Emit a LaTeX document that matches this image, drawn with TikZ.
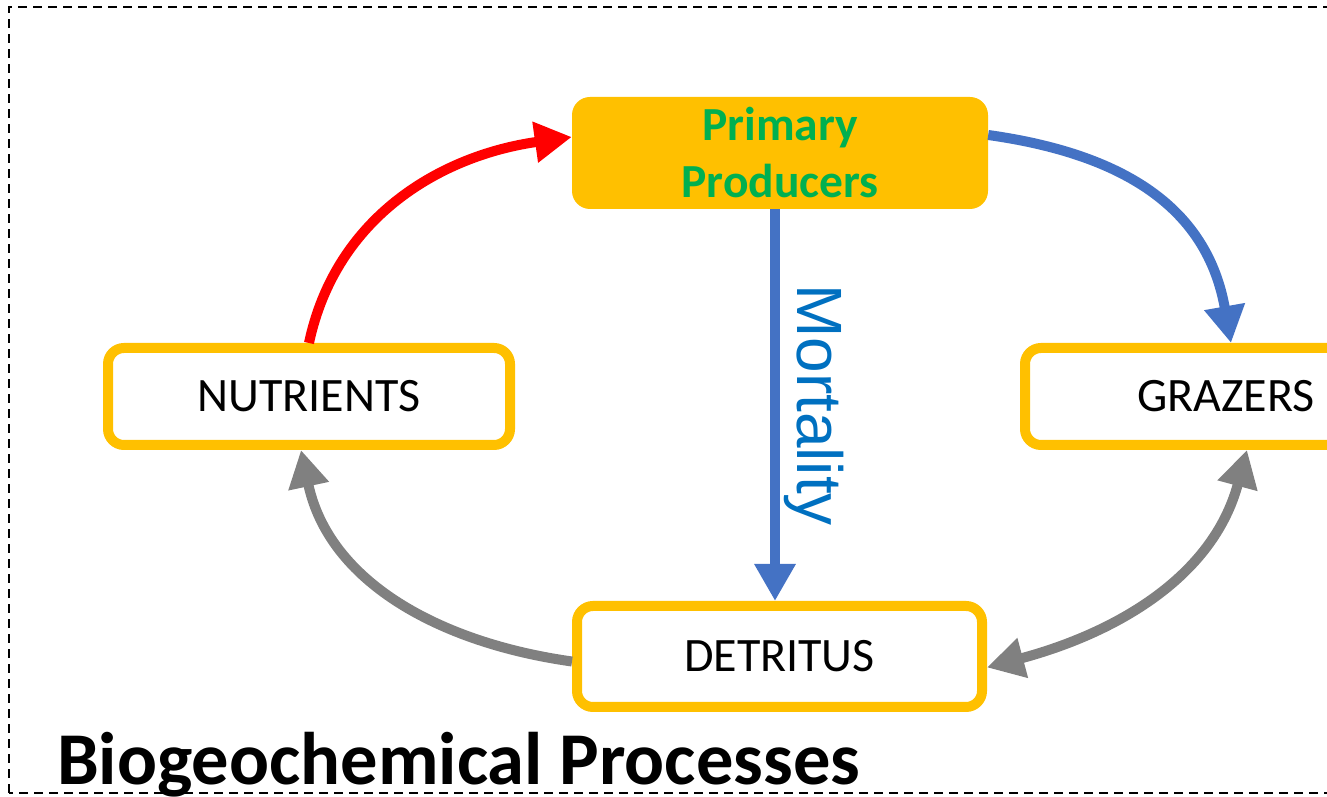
\documentclass[tikz,border=0pt]{standalone}
\usepackage{fontspec}
\setmainfont{Carlito}
\newfontfamily\arialfont{Liberation Sans}
\usetikzlibrary{arrows.meta}
\definecolor{boxorange}{HTML}{FFC000}
\definecolor{ppgreen}{HTML}{00B050}
\definecolor{flowblue}{HTML}{4472C4}
\definecolor{mortblue}{HTML}{0070C0}
\definecolor{flowgrey}{HTML}{808080}
\begin{document}
\begin{tikzpicture}[x=1pt, y=1pt, >={Triangle[length=37pt,width=39pt]},
  box/.style = {draw=boxorange, line width=10pt, rounded corners=16pt, fill=white, minimum width=402pt, minimum height=97pt, inner sep=0pt, font=\fontsize{48}{56}\selectfont},
  flow/.style = {line width=10pt}]
\useasboundingbox (0,0) rectangle (1327,797);
\clip (0,0) rectangle (1327,797);
\draw[line width=2pt, dash pattern=on 9pt off 6pt] (9,4) rectangle (1340,790);
\node[box] (nut) at (309,400.5) {NUTRIENTS};
\node[box] (grz) at (1226,400.5) {GRAZERS};
\node[box, minimum width=405pt, minimum height=101pt] (det) at (779.5,140.5) {DETRITUS};
\node[fill=boxorange, rounded corners=18pt, minimum width=416pt, minimum height=112pt, inner sep=0pt, align=center, text=ppgreen, font=\bfseries\fontsize{47.5}{57}\selectfont] (pp) at (780,644) {Primary\\Producers};
\node[anchor=base west, inner sep=0pt, font=\bfseries\fontsize{74.5}{80}\selectfont] (title) at (57,12) {Biogeochemical Processes};
\draw[flow, ->, red] (nut.north) to[out=78, in=188] ([yshift=16pt]pp.west);
\draw[flow, ->, flowblue] ([yshift=18pt]pp.east) to[out=-8, in=100, looseness=1.1] ([xshift=5pt]grz.north);
\draw[flow, ->, flowblue] ([xshift=-5pt]pp.south) -- ([xshift=-4.5pt]det.north)
  node[midway, anchor=south, rotate=-90, inner sep=4pt, text=mortblue, font=\arialfont\fontsize{64}{64}\selectfont] {Mortality};
\draw[flow, ->, flowgrey] ([yshift=-5pt]det.west) to[out=172, in=-78] ([xshift=-8pt]nut.south);
\draw[flow, <->, flowgrey] ([yshift=-11pt]det.east) to[out=15, in=-105] ([xshift=21pt]grz.south);
\end{tikzpicture}
\end{document}
